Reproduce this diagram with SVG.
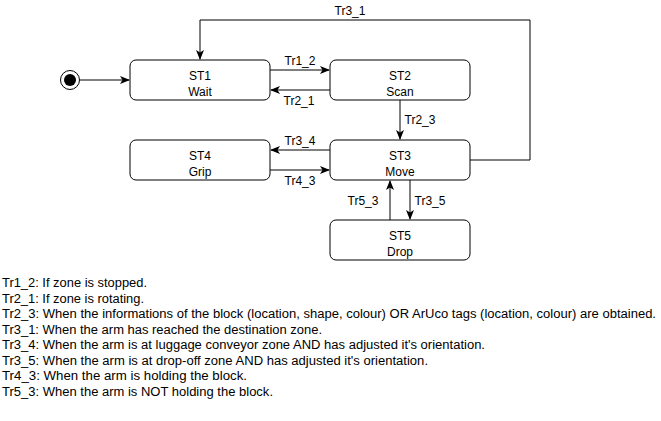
<svg xmlns="http://www.w3.org/2000/svg" width="661" height="421" viewBox="0 0 661 421">
<style>
.n rect{fill:#fff;stroke:#000;stroke-width:1}
text{font-family:"Liberation Sans",Arial,sans-serif;font-size:12px;fill:#000}
.c{text-anchor:middle}
.e path{fill:none;stroke:#000;stroke-width:1}
.leg text{font-size:12px}
</style>
<defs>
<marker id="a" viewBox="0 0 10 10" refX="9" refY="5" markerWidth="10" markerHeight="10" markerUnits="userSpaceOnUse" orient="auto">
<path d="M0,1 L10,5 L0,9 L2.5,5 Z" fill="#000"/>
</marker>
</defs>
<rect width="661" height="421" fill="#fff"/>
<g id="start">
<circle cx="70" cy="80" r="9.5" fill="#fff" stroke="#000"/>
<circle cx="70" cy="80" r="6" fill="#000"/>
</g>
<g id="ST1" class="n"><rect x="130" y="60" width="140" height="40" rx="6"/><text class="c" x="200" y="79.5">ST1</text><text class="c" x="200" y="96">Wait</text></g>
<g id="ST2" class="n"><rect x="330" y="60" width="140" height="40" rx="6"/><text class="c" x="400" y="79.5">ST2</text><text class="c" x="400" y="96">Scan</text></g>
<g id="ST3" class="n"><rect x="330" y="140" width="140" height="40" rx="6"/><text class="c" x="400" y="159.5">ST3</text><text class="c" x="400" y="176">Move</text></g>
<g id="ST4" class="n"><rect x="130" y="140" width="140" height="40" rx="6"/><text class="c" x="200" y="159.5">ST4</text><text class="c" x="200" y="176">Grip</text></g>
<g id="ST5" class="n"><rect x="330" y="220" width="140" height="40" rx="6"/><text class="c" x="400" y="239.5">ST5</text><text class="c" x="400" y="256">Drop</text></g>
<g id="edges" class="e">
<path d="M80,80 H129" marker-end="url(#a)"/>
<path d="M270,70 H329" marker-end="url(#a)"/>
<path d="M330,90 H271" marker-end="url(#a)"/>
<path d="M400,100 V139" marker-end="url(#a)"/>
<path d="M470,160 H530 V20 H200 V59" marker-end="url(#a)"/>
<path d="M330,150 H271" marker-end="url(#a)"/>
<path d="M270,170 H329" marker-end="url(#a)"/>
<path d="M390,220 V181" marker-end="url(#a)"/>
<path d="M410,180 V219" marker-end="url(#a)"/>
<text class="c" x="300" y="65">Tr1_2</text>
<text class="c" x="299" y="105">Tr2_1</text>
<text class="c" x="420" y="124">Tr2_3</text>
<text class="c" x="350" y="15">Tr3_1</text>
<text class="c" x="300" y="145">Tr3_4</text>
<text class="c" x="300" y="185">Tr4_3</text>
<text class="c" x="363" y="205">Tr5_3</text>
<text class="c" x="430" y="205">Tr3_5</text>
</g>
<g class="leg">
<text x="2" y="287" textLength="145" lengthAdjust="spacingAndGlyphs">Tr1_2: If zone is stopped.</text>
<text x="2" y="302.5" textLength="142" lengthAdjust="spacingAndGlyphs">Tr2_1: If zone is rotating.</text>
<text x="2" y="318" textLength="654" lengthAdjust="spacingAndGlyphs">Tr2_3: When the informations of the block (location, shape, colour) OR ArUco tags (location, colour) are obtained.</text>
<text x="2" y="333.5" textLength="320" lengthAdjust="spacingAndGlyphs">Tr3_1: When the arm has reached the destination zone.</text>
<text x="2" y="349" textLength="483" lengthAdjust="spacingAndGlyphs">Tr3_4: When the arm is at luggage conveyor zone AND has adjusted it's orientation.</text>
<text x="2" y="364.5" textLength="426" lengthAdjust="spacingAndGlyphs">Tr3_5: When the arm is at drop-off zone AND has adjusted it's orientation.</text>
<text x="2" y="380" textLength="245" lengthAdjust="spacingAndGlyphs">Tr4_3: When the arm is holding the block.</text>
<text x="2" y="395.5" textLength="271" lengthAdjust="spacingAndGlyphs">Tr5_3: When the arm is NOT holding the block.</text>
</g>
</svg>
